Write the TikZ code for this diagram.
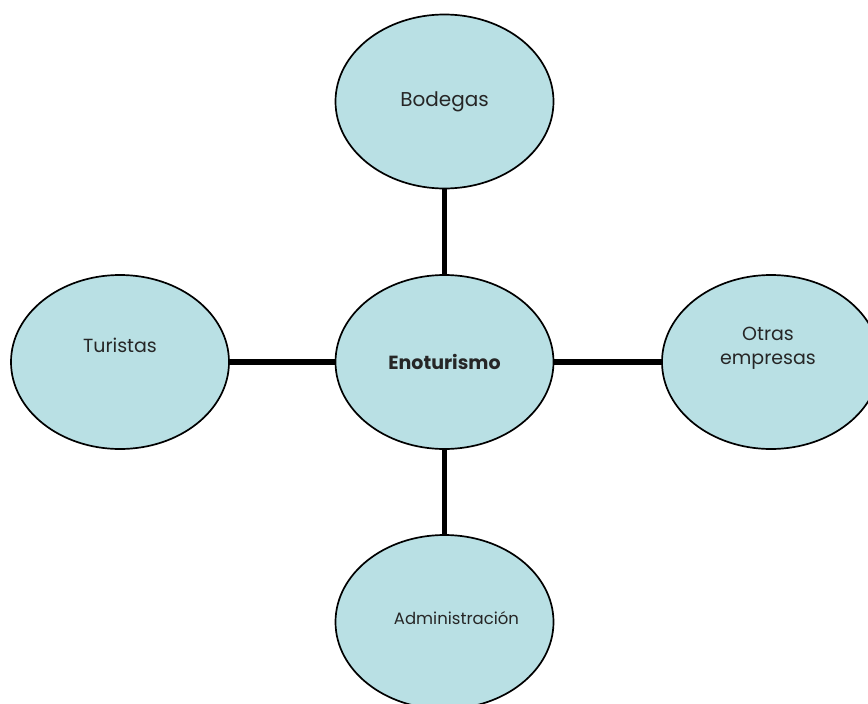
\documentclass[tikz,border=0pt]{standalone}
\usepackage{fontspec}
\setmainfont{Poppins}
\usetikzlibrary{shapes.geometric}
\definecolor{bubble}{RGB}{185,224,228}
\tikzset{
  bubblenode/.style={ellipse, draw=black, line width=1.7pt, fill=bubble,
    minimum width=218pt, minimum height=174pt, inner sep=0pt},
  bubbletext/.style={font=\fontsize{19}{24}\selectfont, text=black!85, align=center},
  link/.style={line width=5.5pt, draw=black}
}
\begin{document}
\begin{tikzpicture}[x=1pt,y=-1pt]
\useasboundingbox (0,0) rectangle (868,704);
\node[bubblenode, label={[bubbletext, font=\fontsize{20}{24}\selectfont]center:Bodegas}] (bod) at (444.5,101.5) {};
\node[bubblenode, label={[bubbletext, font=\fontsize{19}{24}\selectfont\bfseries]center:Enoturismo}] (eno) at (444.5,362) {};
\node[bubblenode, label={[bubbletext, yshift=17pt]center:Turistas}] (tur) at (120,362) {};
\node[bubblenode, label={[bubbletext, yshift=14pt, xshift=-3pt]center:Otras\\empresas}] (otr) at (771,362) {};
\node[bubblenode, label={[bubbletext, font=\fontsize{16.5}{20}\selectfont, xshift=12pt, yshift=4pt]center:Administración}] (adm) at (444.5,622) {};
\draw[link] (bod) -- (eno);
\draw[link] (eno) -- (adm);
\draw[link] (tur) -- (eno);
\draw[link] (eno) -- (otr);
\end{tikzpicture}
\end{document}
